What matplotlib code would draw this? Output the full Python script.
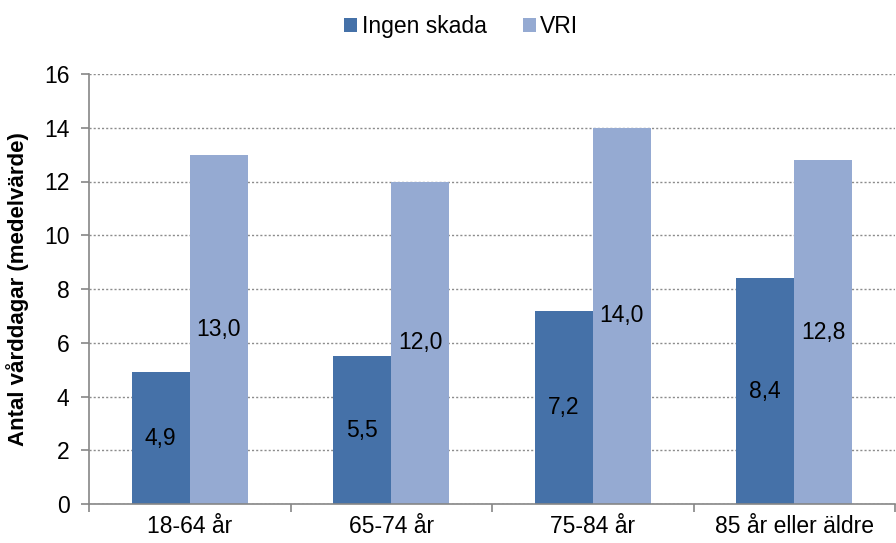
import matplotlib.pyplot as plt
import numpy as np

plt.rcParams['font.family'] = ['Liberation Sans', 'DejaVu Sans']

categories = ['18-64 år', '65-74 år', '75-84 år', '85 år eller äldre']
ingen_skada = [4.9, 5.5, 7.2, 8.4]
vri = [13.0, 12.0, 14.0, 12.8]
series_names = ['Ingen skada', 'VRI']

dark = '#4571A8'
light = '#95AAD2'

fig = plt.figure(figsize=(8.96, 5.43), dpi=100)
ax = fig.add_axes([89 / 896, 39 / 543, 806 / 896, 430 / 543])

x = np.arange(len(categories))
w = 0.288
b1 = ax.bar(x - w / 2, ingen_skada, w, color=dark, label=series_names[0])
b2 = ax.bar(x + w / 2, vri, w, color=light, label=series_names[1])

for bars, vals in [(b1, ingen_skada), (b2, vri)]:
    for r, v in zip(bars, vals):
        ax.text(r.get_x() + r.get_width() / 2, v / 2, f'{v:.1f}'.replace('.', ','),
                ha='center', va='center', fontsize=16.5, color='black')

ax.set_xlim(-0.5, len(categories) - 0.5)
ax.set_ylim(0, 16)
ax.set_yticks(range(0, 17, 2))
ax.set_xticks(x)
ax.set_xticklabels(categories, fontsize=16.5)
ax.tick_params(axis='x', length=0, pad=8)
ax.set_xticks(np.arange(-0.5, len(categories)), minor=True)
ax.tick_params(axis='x', which='minor', length=6, color='#868686', width=1.2)
ax.tick_params(axis='y', labelsize=16.5, length=6, color='#868686', width=1.2, pad=8)

ax.yaxis.grid(True, linestyle=(0, (1.5, 1.5)), color='#8c8c8c', linewidth=1)
ax.set_axisbelow(True)
for s in ['top', 'right']:
    ax.spines[s].set_visible(False)
for s in ['left', 'bottom']:
    ax.spines[s].set_color('#868686')
    ax.spines[s].set_linewidth(1.2)

ax.set_ylabel('Antal vårddagar (medelvärde)', fontsize=16, fontweight='bold')
ax.yaxis.set_label_coords(-60 / 806, 0.5)

fig.legend(loc='upper center', bbox_to_anchor=(0.515, 1.01), ncol=2, frameon=False,
           fontsize=16.5, handlelength=0.55, handleheight=0.55, handletextpad=0.2,
           columnspacing=1.6)

fig.savefig('out.png', dpi=100)
